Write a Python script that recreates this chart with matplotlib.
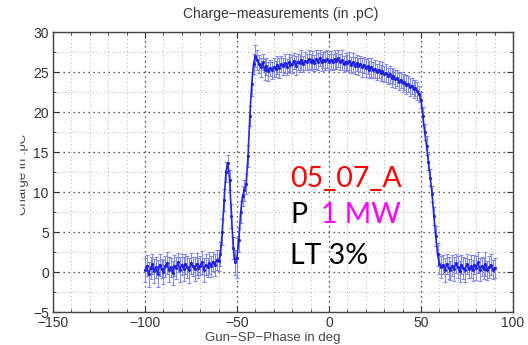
import matplotlib
matplotlib.use('Agg')
import matplotlib.pyplot as plt
from matplotlib.ticker import MultipleLocator
from matplotlib.patches import Rectangle
import numpy as np

# phase scan, 1 deg steps from -100 to 90
phase = list(range(-100, 91))

charge = [
    0.2, 0.8, -0.3, 0.5, 1.0, 0.1, 0.6, -0.2, 0.9, 0.4,      # -100..-91
    0.0, 0.7, 1.1, 0.3, 0.6, -0.1, 0.8, 0.5, 1.2, 0.3,       # -90..-81
    0.9, 0.4, 1.0, 0.6, 0.2, 1.1, 0.7, 0.4, 1.0, 0.5,        # -80..-71
    0.8, 1.2, 0.3, 0.9, 0.6, 1.1, 0.7, 1.3, 0.9, 1.5,        # -70..-61
    1.4, 2.2, 5.0, 9.0, 12.5, 13.6, 11.5, 7.0, 3.0, 1.2,     # -60..-51
    1.8, 4.0, 7.5, 9.5, 10.2, 11.0, 14.5, 19.5, 23.5, 26.0,  # -50..-41
    27.0, 26.5, 26.0, 25.6, 26.2, 25.3, 25.7, 25.1, 25.5, 25.2,  # -40..-31
    25.6, 25.4, 25.9, 25.5, 26.0, 25.7, 26.1, 25.6, 26.2, 25.9,  # -30..-21
    26.0, 26.4, 25.8, 26.3, 26.1, 26.5, 26.0, 26.4, 26.2, 26.6,  # -20..-11
    26.3, 26.5, 26.1, 26.6, 26.3, 26.7, 26.2, 26.5, 26.4, 26.6,  # -10..-1
    26.3, 26.5, 26.2, 26.6, 26.4, 26.7, 26.2, 26.5, 26.0, 26.3,  # 0..9
    26.1, 26.4, 25.9, 26.2, 25.8, 26.1, 25.7, 26.0, 25.6, 25.9,  # 10..19
    25.5, 25.7, 25.3, 25.6, 25.2, 25.4, 25.0, 25.3, 24.9, 25.1,  # 20..29
    24.7, 24.9, 24.5, 24.7, 24.3, 24.5, 24.1, 24.2, 23.8, 24.0,  # 30..39
    23.6, 23.8, 23.4, 23.5, 23.1, 23.3, 22.9, 23.0, 22.6, 22.2,  # 40..49
    21.5, 19.5, 17.5, 15.8, 13.8, 11.8, 9.8, 7.0, 4.5, 2.2,      # 50..59
    1.0, 0.6, 0.9, 0.3, 1.0, 0.5, 0.2, 0.8, 0.4, 1.1,            # 60..69
    0.6, 0.1, 0.9, 0.5, 0.3, 1.0, 0.4, 0.7, 0.2, 0.9,            # 70..79
    0.5, 1.2, 0.3, 0.7, 0.4, 1.0, 0.2, 0.6, 0.9, 0.3,            # 80..89
    0.5,                                                          # 90
]

charge_err = [
    1.5, 1.3, 1.6, 1.4, 1.2, 1.5, 1.3, 1.7, 1.4, 1.2,
    1.5, 1.3, 1.4, 1.6, 1.2, 1.5, 1.3, 1.4, 1.2, 1.6,
    1.3, 1.5, 1.2, 1.4, 1.6, 1.3, 1.2, 1.5, 1.4, 1.3,
    1.2, 1.4, 1.5, 1.3, 1.2, 1.4, 1.3, 1.2, 1.4, 1.3,
    1.3, 1.5, 1.6, 1.4, 1.2, 1.0, 1.3, 1.5, 1.4, 1.6,
    2.5, 1.5, 1.4, 1.2, 1.3, 1.2, 1.4, 1.3, 1.5, 1.2,
    1.4, 1.3, 1.1, 1.2, 1.0, 1.3, 1.1, 1.2, 1.0, 1.1,
    1.2, 1.0, 1.1, 1.3, 1.0, 1.1, 1.2, 1.0, 1.1, 1.0,
    1.1, 1.0, 1.2, 1.0, 1.1, 1.3, 1.0, 1.1, 1.0, 1.2,
    1.0, 1.1, 1.0, 1.2, 1.1, 1.0, 1.1, 1.0, 1.2, 1.1,
    1.0, 1.1, 1.0, 1.2, 1.0, 1.1, 1.0, 1.3, 1.0, 1.1,
    1.0, 1.1, 1.0, 1.2, 1.1, 1.0, 1.1, 1.0, 1.2, 1.0,
    1.1, 1.0, 1.1, 1.2, 1.0, 1.1, 1.0, 1.1, 1.0, 1.2,
    1.0, 1.1, 1.0, 1.1, 1.2, 1.0, 1.1, 1.0, 1.1, 1.0,
    1.1, 1.0, 1.2, 1.0, 1.1, 1.0, 1.1, 1.0, 1.1, 1.0,
    1.0, 1.1, 1.0, 1.2, 1.0, 1.1, 1.0, 1.1, 1.3, 1.4,
    1.3, 1.4, 1.2, 1.5, 1.3, 1.4, 1.2, 1.3, 1.5, 1.2,
    1.4, 1.3, 1.2, 1.4, 1.5, 1.3, 1.2, 1.4, 1.3, 1.2,
    1.5, 1.3, 1.4, 1.2, 1.3, 1.5, 1.2, 1.4, 1.3, 1.2,
    1.3,
]

W, H = 528, 345
plt.rcParams['font.family'] = ['Liberation Sans', 'DejaVu Sans']
fig = plt.figure(figsize=(W / 100, H / 100), dpi=100)
ax = fig.add_axes([53 / W, 1 - 312 / H, 460 / W, 280 / H])

ax.errorbar(phase, charge, yerr=charge_err, fmt='.-', color='#1c1ce0',
            ecolor='#7f86ee', elinewidth=0.8, capsize=1.6, capthick=0.8,
            markersize=2.5, linewidth=1.2, alpha=0.95, zorder=3)

ax.set_xlim(-150, 100)
ax.set_ylim(-5, 30)
ax.xaxis.set_major_locator(MultipleLocator(50))
ax.xaxis.set_minor_locator(MultipleLocator(10))
ax.yaxis.set_major_locator(MultipleLocator(5))
ax.yaxis.set_minor_locator(MultipleLocator(2.5))

ax.grid(which='major', color='#222222', linestyle=(0, (1, 3)), linewidth=0.9)
ax.grid(which='minor', color='#b0b0b0', linestyle=(0, (1, 3)), linewidth=0.7)
ax.tick_params(which='both', direction='in', top=True, right=True,
               labelsize=10, labelcolor='#333333', color='#333333')
ax.tick_params(which='major', length=4, pad=3)
ax.tick_params(which='minor', length=2)
for s in ax.spines.values():
    s.set_color('#444444')
    s.set_linewidth(1.0)

fig.text(281 / W, 1 - 14 / H, 'Charge\u2212measurements (in .pC)', ha='center',
         va='center', fontsize=10, color='#333333')
fig.text(273 / W, 1 - 338 / H, 'Gun\u2212SP\u2212Phase in deg', ha='center',
         va='center', fontsize=9.5, color='#444444')
fig.text(23 / W, 1 - 174 / H, 'Charge in .pC', ha='center', va='center',
         rotation=90, fontsize=9.5, color='#444444')
# left strip of the slide hides part of the y label
fig.patches.append(Rectangle((0, 1 - 230 / H), 19 / W, 110 / H,
                             transform=fig.transFigure, color='white', zorder=5))

big = dict(fontsize=20.5, family=['Lato', 'DejaVu Sans'], ha='left', va='baseline')
fig.text(290 / W, 1 - 187 / H, '05_07_A', color='#ff0000', **big)
fig.text(290 / W, 1 - 223 / H, 'P', color='black', **big)
fig.text(321 / W, 1 - 223 / H, '1 MW', color='#ff00ff', **big)
fig.text(290 / W, 1 - 264 / H, 'LT 3%', color='black', **big)

fig.savefig('out.png', dpi=100)
